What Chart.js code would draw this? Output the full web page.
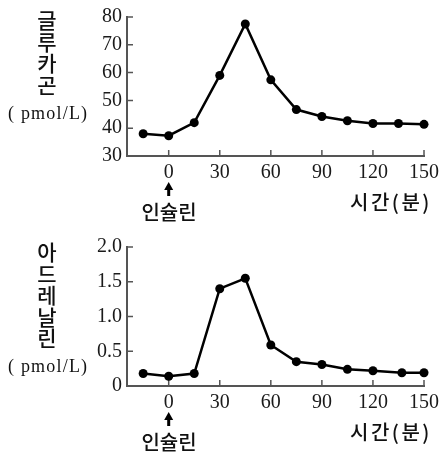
<!DOCTYPE html>
<html><head><meta charset="utf-8">
<script src="https://cdn.jsdelivr.net/npm/chart.js@4.4.0/dist/chart.umd.min.js"></script>
<style>
html,body{margin:0;padding:0;background:#fff;}
body{width:444px;height:459px;position:relative;overflow:hidden;}
.panel{position:absolute;left:0;width:444px;height:230px;}
.panel canvas{position:absolute;left:0;top:0;}
.kr{position:absolute;font-family:"Noto Sans CJK KR";font-weight:500;color:#111;font-size:20px;line-height:20px;white-space:nowrap;}
.vert{writing-mode:vertical-rl;text-orientation:upright;letter-spacing:0.5px;font-size:21px;}
.unit{position:absolute;font-family:"Liberation Serif";font-size:18px;line-height:18px;letter-spacing:1.2px;color:#111;white-space:nowrap;}
</style></head><body>
<div class="panel" style="top:0">
  <canvas id="c1" width="444" height="230" style="width:444px;height:230px"></canvas>
  <div class="kr vert" style="left:37px;top:10px">글루카곤</div>
  <div class="unit" style="left:8px;top:104px">( pmol/L)</div>
  <div class="kr" style="left:169px;top:202px;transform:translateX(-50%)">인슐린</div>
  <div class="kr" style="left:350px;top:192px;letter-spacing:2.5px">시간(분)</div>
</div>
<div class="panel" style="top:230px">
  <canvas id="c2" width="444" height="230" style="width:444px;height:230px"></canvas>
  <div class="kr vert" style="left:37px;top:12px">아드레날린</div>
  <div class="unit" style="left:8px;top:127px">( pmol/L)</div>
  <div class="kr" style="left:169px;top:202px;transform:translateX(-50%)">인슐린</div>
  <div class="kr" style="left:350px;top:192px;letter-spacing:2.5px">시간(분)</div>
</div>
<script>
// ---- data ----
const timeGlucagon = [-15, 0, 15, 30, 45, 60, 75, 90, 105, 120, 135, 150];
const glucagon     = [38, 37.3, 42, 59, 77.5, 57.4, 46.7, 44.2, 42.7, 41.7, 41.7, 41.4];
const timeAdrenaline = [-15, 0, 15, 30, 45, 60, 75, 90, 105, 120, 137, 150];
const adrenaline     = [0.18, 0.14, 0.18, 1.40, 1.55, 0.59, 0.35, 0.31, 0.24, 0.22, 0.19, 0.19];
const xTicks = [0, 30, 60, 90, 120, 150];
const xTickLabels = ['0', '30', '60', '90', '120', '150'];
const yTicksGlucagon = [30, 40, 50, 60, 70, 80];
const yTickLabelsGlucagon = ['30', '40', '50', '60', '70', '80'];
const yTicksAdrenaline = [0, 0.5, 1.0, 1.5, 2.0];
const yTickLabelsAdrenaline = ['0', '0.5', '1.0', '1.5', '2.0'];
const xMin = -24.5, xMax = 150;
const insulinAt = 0;

const AXIS = '#555';
const TXT = '#1a1a1a';
const SERIF = "'Liberation Serif', 'DejaVu Serif', serif";

const marks = {
  id: 'marks',
  beforeDatasetsDraw(chart) {
    const {ctx, chartArea: a, scales: {x, y}} = chart;
    ctx.save();
    ctx.strokeStyle = AXIS; ctx.lineWidth = 1.5;
    ctx.beginPath();
    y.ticks.forEach(t => {
      if (t.value === y.min) return;
      const py = y.getPixelForValue(t.value);
      ctx.moveTo(a.left, py); ctx.lineTo(a.left + 6, py);
    });
    x.ticks.forEach(t => {
      const px = x.getPixelForValue(t.value);
      ctx.moveTo(px, a.bottom); ctx.lineTo(px, a.bottom - 6);
    });
    ctx.stroke();
    // insulin arrow
    const ax = x.getPixelForValue(insulinAt);
    ctx.fillStyle = '#000';
    ctx.beginPath();
    ctx.moveTo(ax, 182); ctx.lineTo(ax - 4.5, 190); ctx.lineTo(ax + 4.5, 190); ctx.closePath(); ctx.fill();
    ctx.fillRect(ax - 1.5, 189, 3, 7);
    ctx.restore();
  }
};

function makeChart(id, xs, ys, yTicks, yLabels) {
  const pts = xs.map((v, i) => ({x: v, y: ys[i]}));
  return new Chart(document.getElementById(id), {
    type: 'line',
    data: {datasets: [{
      data: pts, borderColor: '#000', borderWidth: 2.5, backgroundColor: '#000',
      pointRadius: 4.5, pointBorderWidth: 0, pointBackgroundColor: '#000',
      tension: 0, clip: false
    }]},
    options: {
      responsive: false, animation: false, devicePixelRatio: 1,
      layout: {padding: {left: 0, right: 17, top: 15, bottom: 0}},
      plugins: {legend: {display: false}, tooltip: {enabled: false}},
      scales: {
        x: {
          type: 'linear', min: xMin, max: xMax,
          afterBuildTicks: s => { s.ticks = xTicks.map(v => ({value: v})); },
          afterFit: s => { s.height = 74; },
          grid: {display: false, drawTicks: false},
          border: {display: true, color: AXIS, width: 2},
          ticks: {
            padding: 5, color: TXT, maxRotation: 0, autoSkip: false,
            font: {family: SERIF, size: 20},
            callback: v => xTickLabels[xTicks.indexOf(v)]
          }
        },
        y: {
          min: yTicks[0], max: yTicks[yTicks.length - 1],
          afterBuildTicks: s => { s.ticks = yTicks.map(v => ({value: v})); },
          afterFit: s => { s.width = 127; },
          grid: {display: false, drawTicks: false},
          border: {display: true, color: AXIS, width: 2},
          ticks: {
            padding: 5, color: TXT, autoSkip: false,
            font: {family: SERIF, size: 20},
            callback: v => yLabels[yTicks.indexOf(v)]
          }
        }
      }
    },
    plugins: [marks]
  });
}

const charts = [
  makeChart('c1', timeGlucagon, glucagon, yTicksGlucagon, yTickLabelsGlucagon),
  makeChart('c2', timeAdrenaline, adrenaline, yTicksAdrenaline, yTickLabelsAdrenaline)
];
if (document.fonts) {
  document.fonts.load("20px 'Liberation Serif'").then(() => charts.forEach(c => c.update()));
}
</script>
</body></html>
